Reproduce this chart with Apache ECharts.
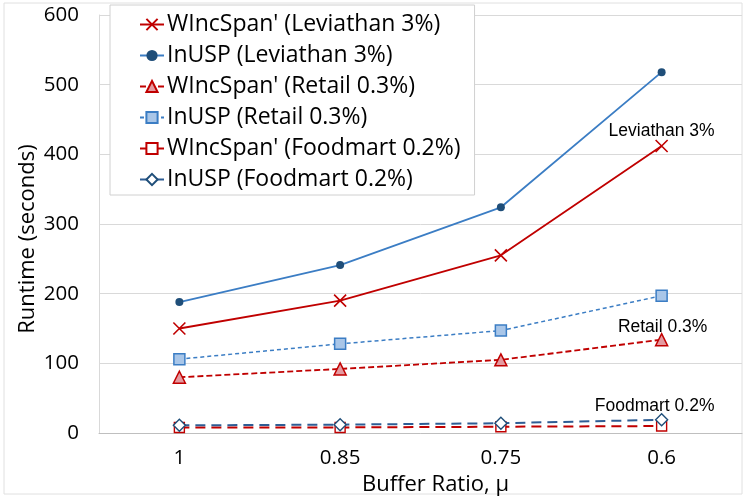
<!DOCTYPE html>
<html><head><meta charset="utf-8">
<script src="https://cdn.jsdelivr.net/npm/echarts@6/dist/echarts.min.js"></script>
<style>html,body{margin:0;padding:0;background:#fff}#c{width:747px;height:498px}</style>
</head><body><div id="c"></div>
<script>
const categories = ['1', '0.85', '0.75', '0.6'];
const wincLev = [150, 190, 255, 412];
const inuspLev = [188, 241, 324, 518];
const wincRetail = [80, 92, 105, 134];
const inuspRetail = [106, 128, 147, 197];
const wincFood = [8, 8, 9, 10];
const inuspFood = [11, 12, 14, 19];
const yTicks = [0, 100, 200, 300, 400, 500, 600];
const names = ["WIncSpan' (Leviathan 3%)", "InUSP (Leviathan 3%)", "WIncSpan' (Retail 0.3%)", "InUSP (Retail 0.3%)", "WIncSpan' (Foodmart 0.2%)", "InUSP (Foodmart 0.2%)"];

const RED = '#c00000';
const BLUE = '#3b7dc4';
const NAVY = '#1f4e79';
const FONT = 'Open Sans';

function withEndLabel(arr, text, offset) {
  return arr.map((v, i) => i === arr.length - 1 ? {
    value: v,
    label: { show: true, formatter: text, position: 'top', distance: 0, offset: offset,
      fontFamily: 'Liberation Sans', fontSize: 17.5, color: '#000' }
  } : v);
}

const chart = echarts.init(document.getElementById('c'), null, { renderer: 'canvas' });
chart.setOption({
  animation: false,
  backgroundColor: '#fff',
  textStyle: { fontFamily: FONT },
  graphic: [{ type: 'rect', shape: { x: 4, y: 3, width: 738, height: 491 }, style: { fill: 'none', stroke: '#e0e0e0', lineWidth: 1 }, silent: true, z: -10 }],
  grid: { left: 99, right: 5, top: 15, bottom: 65, containLabel: false, outerBoundsMode: 'none' },
  legend: {
    orient: 'vertical', left: 110, top: 5,
    backgroundColor: '#fff', borderColor: '#d0d0d0', borderWidth: 1,
    padding: [8, 14, 4, 29], itemGap: 8, itemWidth: 24, itemHeight: 14,
    textStyle: { fontFamily: FONT, fontSize: 23, color: '#000', padding: [0, 0, 0, -2] },
    data: names
  },
  xAxis: {
    type: 'category', data: categories, boundaryGap: true,
    name: 'Buffer Ratio, μ', nameLocation: 'middle', nameGap: 38,
    nameTextStyle: { fontFamily: FONT, fontSize: 22, color: '#000', padding: [0, 0, 0, 30] },
    axisLine: { lineStyle: { color: '#bfbfbf' } },
    axisTick: { show: false },
    axisLabel: { fontFamily: FONT, fontSize: 20.5, color: '#000', margin: 15 }
  },
  yAxis: {
    type: 'value', min: 0, max: 600, interval: 100,
    name: 'Runtime (seconds)', nameLocation: 'middle', nameGap: 60, nameMoveOverlap: false,
    nameTextStyle: { fontFamily: FONT, fontSize: 22, color: '#000', padding: [0, 30, 0, 0] },
    axisLine: { show: true, lineStyle: { color: '#d9d9d9' } },
    axisTick: { show: false },
    axisLabel: { fontFamily: FONT, fontSize: 20.5, color: '#000', margin: 20,
      formatter: v => yTicks.includes(v) ? String(v) : '' },
    splitLine: { lineStyle: { color: '#d9d9d9' } }
  },
  series: [
    { name: names[0], type: 'line', data: withEndLabel(wincLev, 'Leviathan 3%', [0, 3]),
      symbol: 'path://M0,0L10,10M10,0L0,10', symbolSize: 12,
      lineStyle: { color: RED, width: 1.8 },
      itemStyle: { color: 'none', borderColor: RED, borderWidth: 1.6 }, z: 3 },
    { name: names[1], type: 'line', data: inuspLev,
      symbol: 'circle', symbolSize: 8,
      lineStyle: { color: BLUE, width: 1.8 },
      itemStyle: { color: NAVY, borderColor: NAVY, borderWidth: 0 }, z: 3 },
    { name: names[2], type: 'line', data: withEndLabel(wincRetail, 'Retail 0.3%', [1, 3]),
      symbol: 'triangle', symbolSize: 12,
      lineStyle: { color: RED, width: 1.8, type: [6, 3] },
      itemStyle: { color: '#e49aa0', borderColor: RED, borderWidth: 1.5 }, z: 3 },
    { name: names[3], type: 'line', data: inuspRetail,
      symbol: 'rect', symbolSize: 11,
      lineStyle: { color: BLUE, width: 1.5, type: [4, 3] },
      itemStyle: { color: '#a9c6e8', borderColor: BLUE, borderWidth: 1.5 }, z: 3 },
    { name: names[4], type: 'line', data: wincFood,
      symbol: 'rect', symbolSize: 10,
      lineStyle: { color: RED, width: 2, type: [10, 6] },
      itemStyle: { color: '#fff', borderColor: RED, borderWidth: 1.4 }, z: 3 },
    { name: names[5], type: 'line', data: withEndLabel(inuspFood, 'Foodmart 0.2%', [-7, 2]),
      symbol: 'diamond', symbolSize: 12,
      lineStyle: { color: '#2e5d94', width: 2, type: [10, 6] },
      itemStyle: { color: '#fff', borderColor: NAVY, borderWidth: 1.4 }, z: 4 }
  ]
});
</script></body></html>
